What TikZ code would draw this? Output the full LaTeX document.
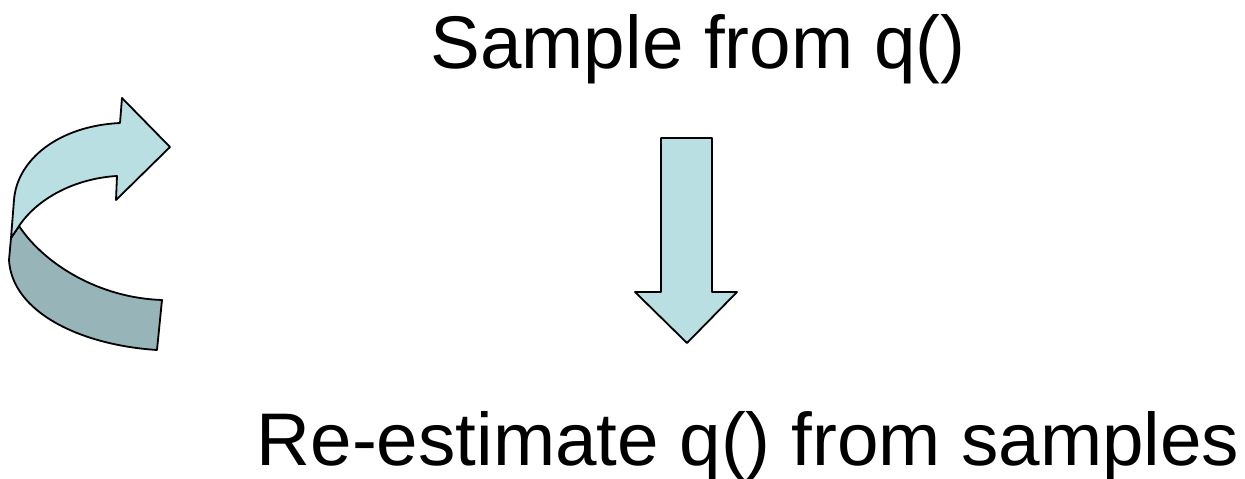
\documentclass[tikz,border=0pt]{standalone}
\usepackage{fontspec}
\setmainfont{Liberation Sans}
\definecolor{arrowlight}{RGB}{185,223,227}
\definecolor{arrowdark}{RGB}{151,180,184}
\begin{document}
\begin{tikzpicture}[x=1pt,y=-1pt,
  shapeline/.style={draw=black,line width=1.8pt,line join=round},
  bigtext/.style={inner sep=0pt,anchor=base,font=\fontsize{74.6}{80}\selectfont}]
\useasboundingbox (0,0) rectangle (1245,479);

% captions
\node[bigtext] (sample) at (698,68) {Sample from q()};
\node[bigtext] (reest) at (748,465) {Re-estimate q() from samples};

% straight block arrow pointing down
\draw[shapeline,fill=arrowlight]
  (661,138) -- (712,138) -- (712,292) -- (737,292) -- (687,343)
  -- (635,292) -- (661,292) -- cycle;

% curved ribbon arrow: underside
\draw[shapeline,fill=arrowdark]
  (19,226) .. controls (45,265) and (100,298) .. (162,300)
  -- (157,350) .. controls (80,345) and (12,312) .. (9,260)
  -- (11,238) -- cycle;

% curved ribbon arrow: top side with head
\draw[shapeline,fill=arrowlight]
  (170,147) -- (122,98) -- (120,123)
  .. controls (58,126) and (17,160) .. (14,200)
  -- (11,238) -- (19,226)
  .. controls (40,195) and (80,178) .. (117,176)
  -- (116,200) -- cycle;
\end{tikzpicture}
\end{document}
